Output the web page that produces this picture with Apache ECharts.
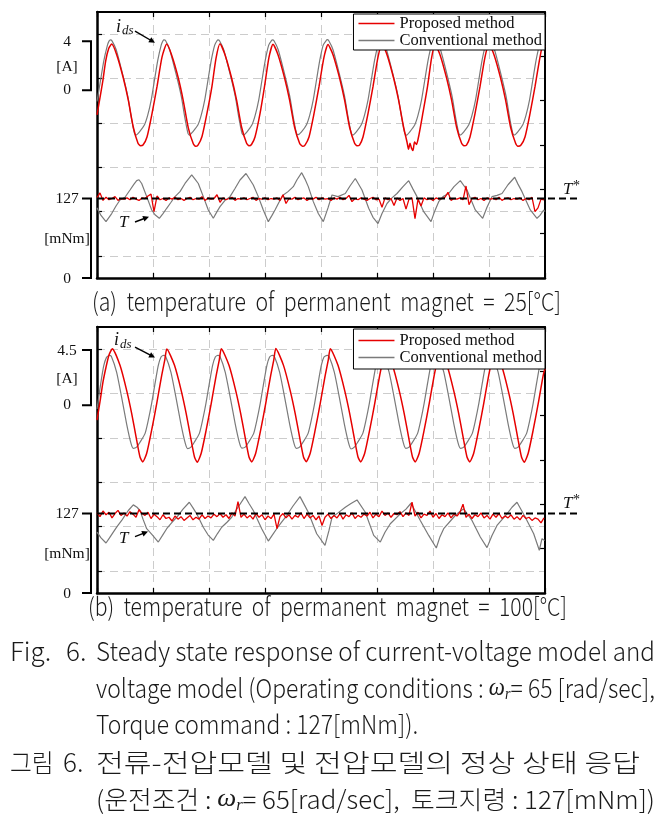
<!DOCTYPE html>
<html>
<head>
<meta charset="utf-8">
<script src="https://cdn.jsdelivr.net/npm/echarts@6.0.0/dist/echarts.min.js"></script>
<style>
html, body { margin: 0; padding: 0; background: #fff; }
#chart { width: 664px; height: 824px; }
</style>
</head>
<body>
<div id="chart"></div>
<script>
// x = time position inside the frame (0..448, 8 divisions), current in A, torque in mNm

const legendNames = ['Proposed method', 'Conventional method'];

// (a) 25 degC
const redCurA = [
  [0, -2.0], [3, -0.6], [5.7, 0.7], [8.7, 2.4], [11.7, 3.4], [14.7, 3.76],
  [19.7, 2.9], [26.3, 1.0], [31.3, -0.8], [36.3, -3.0], [41, -4.3], [43.5, -4.5], [46, -4.45], [50, -3.8], [55, -1.9], [60, 0.3], [65, 2.7], [69.7, 3.76],
  [74.7, 2.85], [81.3, 1.0], [86.3, -0.85], [91.3, -3.05], [96.3, -4.35], [98.5, -4.55], [101, -4.45], [105, -3.75], [110, -1.85], [115, 0.35], [119, 2.6], [123, 3.78],
  [128, 2.9], [134.6, 1.0], [139.6, -0.8], [144.6, -3.0], [149.6, -4.3], [152, -4.5], [154.5, -4.4], [158, -3.8], [163, -1.9], [167.5, 0.3], [172, 2.7], [176, 3.75],
  [181, 2.9], [187.6, 1.0], [192.6, -0.8], [197.6, -3.0], [202.6, -4.3], [205.5, -4.55], [208, -4.45], [212, -3.8], [217, -1.9], [222, 0.3], [227, 2.7], [231, 3.72],
  [236, 2.9], [242.6, 1.0], [247.6, -0.8], [252.6, -3.0], [257.6, -4.3], [260, -4.5], [262.5, -4.45], [266, -3.8], [271, -1.9], [276, 0.3], [281, 2.7], [285, 3.76],
  [290, 2.9], [296.6, 1.0], [301.6, -0.8], [306.6, -3.0], [310, -4.2], [311.5, -4.8], [313, -4.3], [314.5, -4.7], [316, -4.9], [317.5, -4.2], [319.5, -4.4], [322, -3.6], [326, -1.8], [330.5, 0.3], [334.5, 2.6], [338, 3.75],
  [343, 2.9], [349.6, 1.0], [354.6, -0.8], [359.6, -3.0], [364.6, -4.3], [367, -4.5], [369.5, -4.45], [373, -3.8], [378, -1.9], [383, 0.3], [388, 2.7], [392, 3.76],
  [397, 2.9], [403.6, 1.0], [408.6, -0.8], [413.6, -3.0], [418.6, -4.3], [421, -4.55], [424, -4.45], [428, -3.8], [433, -1.9], [438, 0.3], [443, 2.7], [446, 3.7], [448, 3.5]
];
const grayCurA = [
  [0, -0.9], [3.5, 0.8], [6.8, 2.4], [10.2, 3.6], [12, 4.0], [13.5, 4.1], [15, 4.02],
  [19.2, 3.3], [25.8, 1.25], [30.8, -0.5], [34.2, -2.15], [37.5, -3.5], [39, -3.63], [42.5, -3.37], [47.5, -2.8], [50.8, -2.0], [54.2, -0.8], [57.5, 0.84], [60.8, 2.46], [64.2, 3.68], [66, 4.03], [67, 4.1], [68.5, 4.05],
  [72.7, 3.3], [79.3, 1.25], [84.3, -0.5], [87.7, -2.15], [91, -3.5], [92.5, -3.65], [96, -3.35], [101, -2.8], [104.3, -2.0], [107.7, -0.8], [111, 0.84], [114.3, 2.46], [117.7, 3.68], [120, 4.03], [121, 4.1], [122.5, 4.03],
  [126.7, 3.3], [133.3, 1.25], [138.3, -0.5], [141.7, -2.15], [145, -3.5], [146.5, -3.63], [150, -3.37], [155, -2.8], [158.3, -2.0], [161.7, -0.8], [165, 0.84], [168.3, 2.46], [171.7, 3.68], [174.3, 4.03], [175.5, 4.1], [177, 4.03],
  [181.2, 3.3], [187.8, 1.25], [192.8, -0.5], [196.2, -2.15], [199.5, -3.5], [201, -3.6], [204.5, -3.37], [209.5, -2.8], [212.8, -2.0], [216.2, -0.8], [219.5, 0.84], [222.8, 2.46], [226.2, 3.68], [229, 4.03], [230.3, 4.12], [231.8, 4.03],
  [236, 3.3], [242.6, 1.25], [247.6, -0.5], [251, -2.15], [254.3, -3.5], [255.8, -3.63], [259.3, -3.37], [264.3, -2.8], [267.6, -2.0], [271, -0.8], [274.3, 0.84], [277.6, 2.46], [281, 3.68], [282.8, 4.03], [283.8, 4.1], [285.3, 4.03],
  [289.5, 3.3], [296.1, 1.25], [301.1, -0.5], [304.5, -2.15], [307.8, -3.5], [309.3, -3.65], [312.8, -3.37], [317.8, -2.8], [321.1, -2.0], [324.5, -0.8], [327.8, 0.84], [331.1, 2.46], [334.5, 3.68], [336.8, 4.03], [337.8, 4.1], [339.3, 4.03],
  [343.5, 3.3], [350.1, 1.25], [355.1, -0.5], [358.5, -2.15], [361.8, -3.5], [363.3, -3.63], [366.8, -3.37], [371.8, -2.8], [375.1, -2.0], [378.5, -0.8], [381.8, 0.84], [385.1, 2.46], [388.5, 3.68], [390.8, 4.03], [391.8, 4.1], [393.3, 4.03],
  [397.5, 3.3], [404.1, 1.25], [409.1, -0.5], [412.5, -2.15], [415.8, -3.5], [417.3, -3.63], [420.8, -3.37], [425.8, -2.8], [429.1, -2.0], [432.5, -0.8], [435.8, 0.84], [439.1, 2.46], [442.5, 3.68], [444.8, 4.03], [446, 4.1], [448, 4.05]
];
// red torque sampled every 3 positions
const redTorA = [
  128, 136, 124, 129, 125, 127, 130, 124, 127, 126,
  128, 125, 129, 126, 124, 128, 127, 131, 134, 106,
  131, 125, 127, 124, 128, 126, 129, 125, 127, 124,
  127, 129, 125, 127, 126, 130, 124, 128, 126, 127,
  133, 121, 128, 125, 127, 129, 124, 127, 126, 128,
  125, 127, 129, 124, 127, 126, 128, 125, 127, 126,
  128, 124, 133, 119, 127, 126, 129, 125, 127, 128,
  124, 127, 126, 129, 125, 128, 126, 127, 124, 128,
  126, 129, 125, 127, 132, 122, 127, 125, 128, 126,
  124, 127, 129, 125, 126, 113, 128, 125, 127, 116,
  128, 124, 127, 110, 126, 128, 95, 126, 115, 128,
  125, 127, 124, 128, 126, 127, 129, 137, 124, 127,
  126, 128, 125, 147, 117, 127, 129, 125, 127, 124,
  128, 126, 127, 125, 129, 124, 127, 128, 125, 127,
  126, 128, 124, 127, 125, 129, 106, 112, 126, 125
];
const grayTorA = [
  [0, 112], [4, 100], [9, 90], [14.7, 103], [19, 115], [23, 124.6], [28, 129], [33, 140.6], [37, 150], [39.7, 155.5], [42, 157], [44.7, 151],
  [49.7, 130], [54.7, 108.7], [58, 101], [62.3, 95.4], [66, 103], [69.7, 111.4], [74, 121], [78, 130], [83, 138], [88, 151], [94.7, 164.6], [98, 158],
  [101.3, 151], [106.3, 130], [111.3, 108.7], [116.3, 95.4], [120, 106], [123, 114], [128, 124], [133, 130], [138, 143], [143, 156.6], [149, 167], [153, 157],
  [156.3, 148.6], [161.3, 130], [166.3, 108.7], [171.3, 90], [175, 100], [178, 108.7], [182, 121], [186.3, 132.6], [191, 138], [196.3, 145.9], [200, 157], [204.7, 168.3],
  [208, 158], [211.3, 146], [216.3, 122], [221.3, 103], [226.3, 90], [231, 112], [235, 132.6], [241, 130], [248.3, 135], [253, 147], [258.3, 159], [265, 140.6],
  [271.7, 111.4], [276, 97], [281, 87], [285, 103], [290, 119], [295, 128], [300, 135], [306, 146], [311.7, 155.5], [316, 142], [320, 130], [326.7, 106],
  [334, 90], [338, 108], [341.7, 122], [346, 130], [351.7, 135], [357, 146], [363.3, 155.5], [370, 140.6], [378.3, 108.7], [385.7, 95.4], [390, 113], [395, 130],
  [400, 132], [405, 135], [411, 149], [417.7, 161], [421, 150], [425, 138], [433.3, 108.7], [440, 95.4], [443, 100], [446.7, 108.7], [448, 106]
];

// (b) 100 degC
const redCurB = [
  [0, -1.2], [3, 0.3], [6, 1.9], [9, 3.1], [12, 4.1], [15.3, 4.6],
  [23, 3.25], [29.7, 1.2], [34.7, -0.67], [39.7, -2.85], [43, -4.2], [45.7, -4.6], [49.7, -3.9], [54.7, -2.0], [59.7, 0.14], [64.7, 2.44], [67.8, 3.7], [69.8, 4.58],
  [77.5, 3.25], [84.2, 1.2], [89.2, -0.67], [94.2, -2.85], [97.5, -4.2], [100.2, -4.62], [104.2, -3.9], [109.2, -2.0], [114.2, 0.14], [119.2, 2.44], [122.3, 3.7], [124.3, 4.6],
  [132, 3.25], [138.7, 1.2], [143.7, -0.67], [148.7, -2.85], [152, -4.2], [154.7, -4.6], [158.7, -3.9], [163.7, -2.0], [168.7, 0.14], [173.7, 2.44], [176.8, 3.7], [178.8, 4.62],
  [186.5, 3.25], [193.2, 1.2], [198.2, -0.67], [203.2, -2.85], [206.5, -4.2], [209.2, -4.58], [213.2, -3.9], [218.2, -2.0], [223.2, 0.14], [228.2, 2.44], [231.3, 3.7], [233.3, 4.6],
  [241, 3.25], [247.7, 1.2], [252.7, -0.67], [257.7, -2.85], [261, -4.2], [263.7, -4.6], [267.7, -3.9], [272.7, -2.0], [277.7, 0.14], [282.7, 2.44], [285.8, 3.7], [287.8, 4.6],
  [295.5, 3.25], [302.2, 1.2], [307.2, -0.67], [312.2, -2.85], [315.5, -4.2], [318.2, -4.6], [322.2, -3.9], [327.2, -2.0], [332.2, 0.14], [337.2, 2.44], [340.3, 3.7], [342.3, 4.6],
  [350, 3.25], [356.7, 1.2], [361.7, -0.67], [366.7, -2.85], [370, -4.2], [372.7, -4.6], [376.7, -3.9], [381.7, -2.0], [386.7, 0.14], [391.7, 2.44], [394.8, 3.7], [396.8, 4.6],
  [404.5, 3.25], [411.2, 1.2], [416.2, -0.67], [421.2, -2.85], [424.5, -4.2], [427.2, -4.62], [431.2, -3.9], [436.2, -2.0], [441.2, 0.14], [446.2, 2.44], [448, 3.0]
];
const grayCurB = [
  [0, -0.3], [3.4, 1.6], [6.7, 3.2], [9.5, 3.9], [12.3, 4.07], [14.3, 4.0],
  [19.6, 2.7], [24.6, 0.67], [29.6, -1.5], [34, -3.1], [36.3, -3.5], [39.6, -3.4], [43, -3.0], [48, -2.3], [51.3, -1.2], [54.6, 0.14], [58, 1.76], [61.3, 3.25], [64, 3.93], [66.6, 4.07], [68.6, 4.0],
  [73.9, 2.7], [78.9, 0.67], [83.9, -1.5], [88.3, -3.1], [90.6, -3.52], [93.9, -3.4], [97.3, -3.0], [102.3, -2.3], [105.6, -1.2], [108.9, 0.14], [112.3, 1.76], [115.6, 3.25], [118.3, 3.93], [120.9, 4.07], [122.9, 4.0],
  [128.2, 2.7], [133.2, 0.67], [138.2, -1.5], [142.6, -3.1], [144.9, -3.48], [148.2, -3.4], [151.6, -3.0], [156.6, -2.3], [159.9, -1.2], [163.2, 0.14], [166.6, 1.76], [169.9, 3.25], [172.6, 3.93], [175.3, 4.07], [177.3, 4.0],
  [182.6, 2.7], [187.6, 0.67], [192.6, -1.5], [197, -3.1], [199.3, -3.5], [202.6, -3.4], [206, -3.0], [211, -2.3], [214.3, -1.2], [217.6, 0.14], [221, 1.76], [224.3, 3.25], [227, 3.93], [230, 4.07], [232, 4.0],
  [237.3, 2.7], [242.3, 0.67], [247.3, -1.5], [251.7, -3.1], [254, -3.55], [257.3, -3.4], [260.7, -3.0], [265.7, -2.3], [269, -1.2], [272.3, 0.14], [275.7, 1.76], [279, 3.25], [281.7, 3.93], [284.8, 4.07], [286.8, 4.0],
  [292.1, 2.7], [297.1, 0.67], [302.1, -1.5], [306.5, -3.1], [308.8, -3.5], [312.1, -3.4], [315.5, -3.0], [320.5, -2.3], [323.8, -1.2], [327.1, 0.14], [330.5, 1.76], [333.8, 3.25], [336.5, 3.93], [339.5, 4.07], [341.5, 4.0],
  [346.8, 2.7], [351.8, 0.67], [356.8, -1.5], [361.2, -3.1], [363.5, -3.5], [366.8, -3.4], [370.2, -3.0], [375.2, -2.3], [378.5, -1.2], [381.8, 0.14], [385.2, 1.76], [388.5, 3.25], [391.2, 3.93], [393.8, 4.07], [395.8, 4.0],
  [401.1, 2.7], [406.1, 0.67], [411.1, -1.5], [415.5, -3.1], [417.8, -3.5], [421.1, -3.4], [424.5, -3.0], [429.5, -2.3], [432.8, -1.2], [436.1, 0.14], [439.5, 1.76], [442.8, 3.25], [445.5, 3.93], [448, 4.07]
];
const redTorB = [
  128, 122, 131, 125, 129, 120, 127, 132, 124, 128,
  123, 130, 126, 121, 133, 127, 124, 129, 119, 126,
  122, 117, 125, 119, 121, 115, 123, 118, 122, 116,
  120, 124, 117, 121, 118, 125, 119, 123, 120, 126,
  122, 127, 121, 125, 119, 128, 123, 146, 121, 126,
  120, 124, 118, 127, 121, 125, 117, 123, 119, 126,
  103, 122, 127, 120, 125, 118, 124, 121, 128, 119,
  126, 120, 124, 117, 123, 108, 121, 126, 119, 124,
  120, 127, 118, 125, 122, 128, 119, 124, 121, 126,
  123, 129, 120, 126, 122, 131, 124, 128, 121, 127,
  125, 130, 122, 128, 124, 145, 123, 129, 120, 126,
  124, 131, 121, 127, 119, 125, 122, 128, 120, 126,
  123, 129, 142, 121, 126, 119, 125, 122, 128, 120,
  124, 118, 126, 121, 127, 119, 123, 120, 125, 118,
  122, 117, 124, 119, 121, 116, 120, 118, 112, 120
];
const grayTorB = [
  [0, 97.3], [4, 88], [9, 79.9], [12.5, 88], [16.3, 97.3], [20, 106], [24.7, 115.9], [28, 124], [31.3, 131.8], [36.3, 140.8], [40, 137], [43, 131.8],
  [46, 118], [49.7, 102.7], [55.7, 92], [61.3, 81.4], [65.5, 92], [69.7, 102.7], [75, 113], [79.7, 121], [86, 134], [92.3, 145], [96, 136], [99.7, 126.5],
  [106.3, 105], [111, 93], [116.3, 84], [120.5, 95], [124.7, 105], [130, 113], [134.7, 121], [141, 137], [148, 154], [152, 143], [156.3, 131.8], [164.7, 102.7],
  [171.3, 83], [175.5, 93], [179.7, 102.7], [185, 114], [189.7, 123.8], [196, 139], [203, 154], [207, 142], [211.3, 129], [219.7, 94.7], [228, 76.2], [232, 100],
  [235, 121], [241, 128], [248.3, 137], [254, 143], [260, 148.7], [268.3, 129], [276.7, 92], [283.3, 81.4], [288, 97], [293.3, 110.6], [303.3, 126.5], [309, 134],
  [314, 143.4], [323.3, 115.9], [331.7, 92], [339.3, 71.9], [343, 90], [346.7, 102.7], [356.7, 121], [361, 128], [366.7, 134.5], [375, 115.9], [383.3, 89.4], [390, 72.5],
  [395, 92], [400, 108], [410, 126.5], [415, 137], [420, 145], [428.3, 121], [436.7, 94.7], [442.3, 68.3], [445, 86.8], [447.7, 84]
];

// axis labels / annotations
const torqueRef = 127;
const currentTopLabel = [[4, '4'], [4.5, '4.5']];
const idsText = [[19, 5.15], [17, 5.28]];
const idsArrow = [[[38, 4.82], [58, 3.87]], [[38, 4.74], [58, 3.88]]];
const tText = [[22, 88], [22, 87]];
const tArrow = [[[38, 89.5], [52, 98]], [[38, 90], [51, 98.4]]];
const tStarText = [[466, 142], [466, 143]];
const subCaptions = ['(a)  temperature  of  permanent  magnet  =  25[°C]', '(b)  temperature  of  permanent  magnet  =  100[°C]'];

const SAMPLE_STEP = 3;
const toXY = arr => arr.map((v, i) => [i * SAMPLE_STEP, v]);

const chart = echarts.init(document.getElementById('chart'));

const GRID_TOP = [12, 327];
const dash = { color: '#cccccc', type: [8, 5], width: 1 };

const xAxes = [];
const yAxes = [];
const series = [];
const grids = [];
[0, 1].forEach(k => {
  grids.push({ left: 97, top: GRID_TOP[k], width: 448, height: 266, containLabel: false });
  xAxes.push({
    gridIndex: k, type: 'value', min: 0, max: 448, interval: 56, position: 'bottom',
    axisLine: { onZero: false, lineStyle: { color: '#000', width: 2.5 } },
    axisTick: { inside: true, length: 5, lineStyle: { color: '#000', width: 1.2 } },
    axisLabel: { show: false },
    splitLine: { show: true, lineStyle: dash }
  });
  xAxes.push({
    gridIndex: k, type: 'value', min: 0, max: 448, interval: 56, position: 'top',
    axisLine: { onZero: false, lineStyle: { color: '#000', width: 2 } },
    axisTick: { inside: true, length: 5, lineStyle: { color: '#000', width: 1.2 } },
    axisLabel: { show: false },
    splitLine: { show: false }
  });
  yAxes.push({
    gridIndex: k, type: 'value', min: 0, max: 12, interval: 1, position: 'left',
    axisLine: { show: true, onZero: false, lineStyle: { color: '#000', width: 2.5 } },
    axisTick: { show: true, inside: true, length: 5, customValues: [1, 3, 5, 7, 9, 11], lineStyle: { color: '#000', width: 1.2 } },
    axisLabel: { show: false },
    splitLine: { show: true, lineStyle: dash }
  });
  yAxes.push({
    gridIndex: k, type: 'value', min: 0, max: 12, interval: 1, position: 'right',
    axisLine: { show: true, onZero: false, lineStyle: { color: '#000', width: 2 } },
    axisTick: { show: true, inside: true, length: 5, customValues: [2, 4, 6, 8, 10], lineStyle: { color: '#000', width: 1.2 } },
    axisLabel: { show: false },
    splitLine: { show: false }
  });
  yAxes.push({ gridIndex: k, type: 'value', min: -15.26, max: 6.37, show: false });
  yAxes.push({ gridIndex: k, type: 'value', min: 0, max: 425, show: false });
});

const curves = [
  { gray: grayCurA, red: redCurA, grayT: grayTorA, redT: redTorA },
  { gray: grayCurB, red: redCurB, grayT: grayTorB, redT: redTorB }
];
curves.forEach((c, k) => {
  const base = { type: 'line', xAxisIndex: 2 * k, symbol: 'none', animation: false, silent: true };
  series.push({ ...base, name: 'Conventional method', yAxisIndex: 4 * k + 2, data: c.gray, smooth: 0.2,
    lineStyle: { color: '#7a7a7a', width: 1.2 }, itemStyle: { color: '#7a7a7a' } });
  series.push({ ...base, name: 'Proposed method', yAxisIndex: 4 * k + 2, data: c.red, smooth: 0.2,
    lineStyle: { color: '#e60000', width: 1.5 }, itemStyle: { color: '#e60000' } });
  series.push({ ...base, name: 'Conventional method', yAxisIndex: 4 * k + 3, data: c.grayT,
    lineStyle: { color: '#7a7a7a', width: 1.2 }, itemStyle: { color: '#7a7a7a' } });
  series.push({ ...base, name: 'Proposed method', yAxisIndex: 4 * k + 3, data: toXY(c.redT),
    lineStyle: { color: '#e60000', width: 1.3 }, itemStyle: { color: '#e60000' } });
});

const legendBase = {
  data: legendNames, orient: 'vertical', selectedMode: false, icon: 'rect',
  itemWidth: 36, itemHeight: 1.6, itemGap: 0,
  backgroundColor: '#fff', borderColor: '#000', borderWidth: 1, borderRadius: 0,
  padding: [1, 3, 1, 5],
  textStyle: { fontFamily: 'Liberation Serif', fontSize: 16.5, lineHeight: 16, color: '#111' }
};

chart.setOption({
  backgroundColor: '#fff',
  animation: false,
  grid: grids,
  xAxis: xAxes,
  yAxis: yAxes,
  legend: [
    { ...legendBase, right: 119, top: 14 },
    { ...legendBase, right: 119, top: 329, padding: [3, 3, 3, 5] }
  ],
  series: series
});

// ---- annotations, brackets, captions ----
const measureCtx = document.createElement('canvas').getContext('2d');
function textWidth(str, size, family, style, weight) {
  measureCtx.font = (style || 'normal') + ' ' + (weight || 'normal') + ' ' + size + 'px ' + family;
  return measureCtx.measureText(str).width;
}
function serifLabel(x, y, text, align) {
  return { type: 'text', x: x, y: y, z: 50,
    style: { text: text, fontFamily: 'Liberation Serif', fontSize: 15.5, fill: '#111', align: align || 'center', verticalAlign: 'middle' } };
}
function arrow(x1, y1, x2, y2) {
  const dx = x2 - x1, dy = y2 - y1, L = Math.hypot(dx, dy);
  const ux = dx / L, uy = dy / L, nx = -uy, ny = ux;
  const hl = 6, hw = 3;
  return [
    { type: 'line', z: 50, shape: { x1: x1, y1: y1, x2: x2 - ux * 3, y2: y2 - uy * 3 }, style: { stroke: '#000', lineWidth: 1.4 } },
    { type: 'polygon', z: 50, shape: { points: [[x2, y2], [x2 - ux * hl + nx * hw, y2 - uy * hl + ny * hw], [x2 - ux * hl - nx * hw, y2 - uy * hl - ny * hw]] }, style: { fill: '#000' } }
  ];
}
const CAP_FONT = '"Liberation Sans Narrow", "Noto Sans CJK KR", sans-serif';
function captionLine(segs, x, y, targetW, fixedScale) {
  let cx = 0;
  const children = [];
  segs.forEach(s => {
    const size = s.size || 26;
    const family = s.family || CAP_FONT;
    const weight = s.weight || 300;
    children.push({ type: 'text', x: cx, y: s.dy || 0,
      style: { text: s.t, fontFamily: family, fontSize: size, fontStyle: s.style || 'normal', fontWeight: weight, fill: '#1a1a1a', align: 'left', verticalAlign: 'middle' } });
    cx += textWidth(s.t, size, family, s.style, weight);
  });
  const sx = targetW ? targetW / cx : fixedScale;
  return { el: { type: 'group', x: x, y: y, scaleX: sx, scaleY: 1, z: 50, children: children }, scale: sx };
}

const g = [];
[0, 1].forEach(k => {
  const px = v => chart.convertToPixel({ xAxisIndex: 2 * k }, v);
  const pyI = v => chart.convertToPixel({ yAxisIndex: 4 * k + 2 }, v);
  const pyT = v => chart.convertToPixel({ yAxisIndex: 4 * k + 3 }, v);
  const gl = px(0);
  const bx = gl - 6, bx0 = gl - 15, lx = gl - 30;

  const iTop = pyI(currentTopLabel[k][0]), iZero = pyI(0);
  g.push({ type: 'polyline', z: 50, shape: { points: [[bx0, iTop], [bx, iTop], [bx, iZero], [bx0, iZero]] }, style: { stroke: '#000', lineWidth: 2, fill: 'none' } });
  g.push(serifLabel(lx, iTop + 1, currentTopLabel[k][1]));
  g.push(serifLabel(lx, (iTop + iZero) / 2 + 1, '[A]'));
  g.push(serifLabel(lx, iZero, '0'));

  const tTop = pyT(torqueRef), tZero = pyT(0);
  g.push({ type: 'polyline', z: 50, shape: { points: [[bx0, tTop], [bx, tTop], [bx, tZero], [bx0, tZero]] }, style: { stroke: '#000', lineWidth: 2, fill: 'none' } });
  g.push(serifLabel(lx, tTop, String(torqueRef)));
  g.push(serifLabel(lx, (tTop + tZero) / 2 + 1, '[mNm]'));
  g.push(serifLabel(lx, tZero + 1, '0'));

  // reference torque T*
  g.push({ type: 'line', z: 60, shape: { x1: px(0), y1: tTop, x2: px(480), y2: tTop }, style: { stroke: '#000', lineWidth: 2, lineDash: [7, 4] } });
  g.push({ type: 'text', z: 60, x: px(tStarText[k][0]), y: pyT(tStarText[k][1]),
    style: { text: 'T', fontFamily: 'Liberation Serif', fontStyle: 'italic', fontSize: 17, fill: '#111', verticalAlign: 'middle' } });
  g.push({ type: 'text', z: 60, x: px(tStarText[k][0]) + 10, y: pyT(tStarText[k][1]) - 3,
    style: { text: '*', fontFamily: 'Liberation Serif', fontSize: 14, fill: '#111', verticalAlign: 'middle' } });

  // i_ds
  g.push({ type: 'text', z: 60, x: px(idsText[k][0]), y: pyI(idsText[k][1]),
    style: { text: 'i', fontFamily: 'Liberation Serif', fontStyle: 'italic', fontSize: 18, fill: '#111', verticalAlign: 'middle' } });
  g.push({ type: 'text', z: 60, x: px(idsText[k][0]) + 6, y: pyI(idsText[k][1]) + 4,
    style: { text: 'ds', fontFamily: 'Liberation Serif', fontStyle: 'italic', fontSize: 13, fill: '#111', verticalAlign: 'middle' } });
  const ia = idsArrow[k];
  arrow(px(ia[0][0]), pyI(ia[0][1]), px(ia[1][0]), pyI(ia[1][1])).forEach(e => g.push(e));

  // T
  g.push({ type: 'text', z: 60, x: px(tText[k][0]), y: pyT(tText[k][1]),
    style: { text: 'T', fontFamily: 'Liberation Serif', fontStyle: 'italic', fontSize: 17, fill: '#111', verticalAlign: 'middle' } });
  const ta = tArrow[k];
  arrow(px(ta[0][0]), pyT(ta[0][1]), px(ta[1][0]), pyT(ta[1][1])).forEach(e => g.push(e));
});

// sub captions
g.push(captionLine([{ t: subCaptions[0], size: 25 }], 92, 301, 469).el);
g.push(captionLine([{ t: subCaptions[1], size: 25 }], 88, 606, 479).el);

// figure caption
const om = (t) => ({ t: t, family: 'Liberation Serif', style: 'italic', size: 26, weight: 'normal' });
const sub = (t) => ({ t: t, family: 'Liberation Serif', style: 'italic', size: 16, dy: 7, weight: 'normal' });
g.push(captionLine([{ t: 'Fig.' }], 10, 651, null, 1).el);
g.push(captionLine([{ t: '6.' }], 66, 651, null, 1).el);
g.push(captionLine([{ t: 'Steady state response of current-voltage model and' }], 96, 651, 559).el);
const l2 = captionLine([{ t: 'voltage model (Operating conditions : ' }, om('ω'), sub('r'), { t: '= 65 [rad/sec],' }], 96, 688, 559);
g.push(l2.el);
g.push(captionLine([{ t: 'Torque command : 127[mNm]).' }], 96, 724, null, l2.scale).el);
g.push(captionLine([{ t: '그림', size: 25 }], 10, 762, null, 0.95).el);
g.push(captionLine([{ t: '6.' }], 63, 762, null, 1).el);
g.push(captionLine([{ t: '전류-전압모델 및 전압모델의 정상 상태 응답', size: 25 }], 96, 762, 544).el);
g.push(captionLine([{ t: '(운전조건 : ', size: 25 }, om('ω'), sub('r'), { t: '= 65[rad/sec],  토크지령 : 127[mNm])', size: 25 }], 96, 799, 559).el);

chart.setOption({ graphic: g });
</script>
</body>
</html>
